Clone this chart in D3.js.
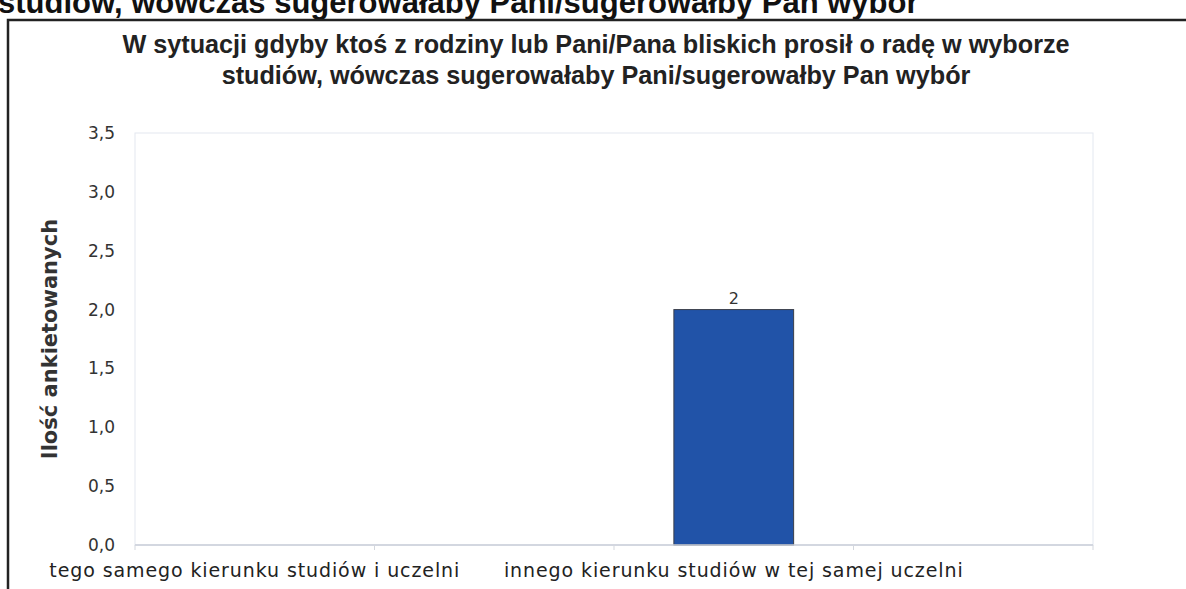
<!DOCTYPE html>
<html>
<head>
<meta charset="utf-8">
<script src="https://cdn.jsdelivr.net/npm/d3@7"></script>
<style>
  body { margin: 0; background: #fff; }
  svg { display: block; }
</style>
</head>
<body>
<div id="chart"></div>
<script>
'use strict';

// chart data
const categories = [
  'tego samego kierunku studiów i uczelni',
  'tego samego kierunku studiów na innej uczelni',   // label hidden in the picture
  'innego kierunku studiów w tej samej uczelni',
  'innego kierunku studiów na innej uczelni'         // label hidden in the picture
];
const counts = [0, 0, 2, 0];
const yTicks = [0, 0.5, 1, 1.5, 2, 2.5, 3, 3.5];
const shownLabels = [0, 2];   // every other category label is drawn

const pageTitle = 'studiów, wówczas sugerowałaby Pani/sugerowałby Pan wybór';
const titleLines = [
  'W sytuacji gdyby ktoś z rodziny lub Pani/Pana bliskich prosił o radę w wyborze',
  'studiów, wówczas sugerowałaby Pani/sugerowałby Pan wybór'
];
const yTitle = 'Ilość ankietowanych';

const W = 1186, H = 589;
const plot = { left: 135, right: 1093, top: 133, bottom: 545 };

const svg = d3.select('#chart').append('svg')
  .attr('width', W)
  .attr('height', H);

// heading of the page above the frame (cut by the top edge)
svg.append('text')
  .attr('x', -2)
  .attr('y', 13)
  .style('font-family', 'Liberation Sans, Arial, sans-serif')
  .style('font-weight', 'bold')
  .style('font-size', '31px')
  .style('fill', '#111')
  .text(pageTitle);

// frame
svg.append('path')
  .attr('d', `M8,${H} L8,20 L${W},20`)
  .style('fill', 'none')
  .style('stroke', '#222')
  .style('stroke-width', 2.5);

// title (condensed look: narrowed horizontally)
const titleX = 596;
svg.append('g')
  .attr('transform', `translate(${titleX},0) scale(0.97,1)`)
  .selectAll('text')
  .data(titleLines)
  .enter()
  .append('text')
  .attr('x', 0)
  .attr('y', (d, i) => 53 + i * 31)
  .attr('text-anchor', 'middle')
  .style('font-family', '"Liberation Sans Narrow", "Liberation Sans", Arial, sans-serif')
  .style('font-weight', 'bold')
  .style('font-size', '26px')
  .style('fill', '#222')
  .text(d => d);

const x = d3.scaleBand()
  .domain(categories)
  .range([plot.left, plot.right])
  .paddingInner(0.5)
  .paddingOuter(0.25);

const y = d3.scaleLinear()
  .domain([0, 3.5])
  .range([plot.bottom, plot.top]);

// plot area outline
svg.append('rect')
  .attr('x', plot.left)
  .attr('y', plot.top)
  .attr('width', plot.right - plot.left)
  .attr('height', plot.bottom - plot.top)
  .style('fill', 'none')
  .style('stroke', '#e3e8f0')
  .style('stroke-width', 1);

// y axis labels
const fmt = d3.format('.1f');
svg.append('g')
  .selectAll('text')
  .data(yTicks)
  .enter()
  .append('text')
  .attr('x', 115)
  .attr('y', d => y(d))
  .attr('dy', '0.35em')
  .attr('text-anchor', 'end')
  .style('font-family', '"DejaVu Sans", Verdana, sans-serif')
  .style('font-size', '17px')
  .style('fill', '#333')
  .text(d => fmt(d).replace('.', ','));

// y axis title
svg.append('text')
  .attr('transform', `translate(57, ${(plot.top + plot.bottom) / 2}) rotate(-90)`)
  .attr('text-anchor', 'middle')
  .style('font-family', '"DejaVu Sans", Verdana, sans-serif')
  .style('font-weight', 'bold')
  .style('font-size', '21px')
  .style('fill', '#333')
  .text(yTitle);

// bars
const barData = categories.map((c, i) => ({ c, v: counts[i] })).filter(d => d.v > 0);

svg.append('g')
  .selectAll('rect')
  .data(barData)
  .enter()
  .append('rect')
  .attr('x', d => x(d.c))
  .attr('y', d => y(d.v))
  .attr('width', x.bandwidth())
  .attr('height', d => y(0) - y(d.v))
  .style('fill', '#2153a8')
  .style('stroke', '#3a3f4a')
  .style('stroke-width', 1);

// value labels
svg.append('g')
  .selectAll('text')
  .data(barData)
  .enter()
  .append('text')
  .attr('x', d => x(d.c) + x.bandwidth() / 2)
  .attr('y', d => y(d.v) - 6)
  .attr('text-anchor', 'middle')
  .style('font-family', '"DejaVu Sans", Verdana, sans-serif')
  .style('font-size', '16px')
  .style('fill', '#333')
  .text(d => d.v);

// x axis line and ticks at category boundaries
const bounds = categories.map(c => x(c) - x.step() * 0.25).concat([plot.right]);
svg.append('line')
  .attr('x1', plot.left)
  .attr('x2', plot.right)
  .attr('y1', plot.bottom)
  .attr('y2', plot.bottom)
  .style('stroke', '#c9ced8')
  .style('stroke-width', 1.5);

svg.append('g')
  .selectAll('line')
  .data(bounds)
  .enter()
  .append('line')
  .attr('x1', d => d)
  .attr('x2', d => d)
  .attr('y1', plot.bottom)
  .attr('y2', plot.bottom + 5)
  .style('stroke', '#d3d7de')
  .style('stroke-width', 1);

// x labels
svg.append('g')
  .selectAll('text')
  .data(shownLabels)
  .enter()
  .append('text')
  .attr('x', i => x(categories[i]) + x.bandwidth() / 2)
  .attr('y', 577)
  .attr('text-anchor', 'middle')
  .style('font-family', '"DejaVu Sans", Verdana, sans-serif')
  .style('font-size', '19px')
  .style('letter-spacing', '0.9px')
  .style('fill', '#222')
  .text(i => categories[i]);
</script>
</body>
</html>
